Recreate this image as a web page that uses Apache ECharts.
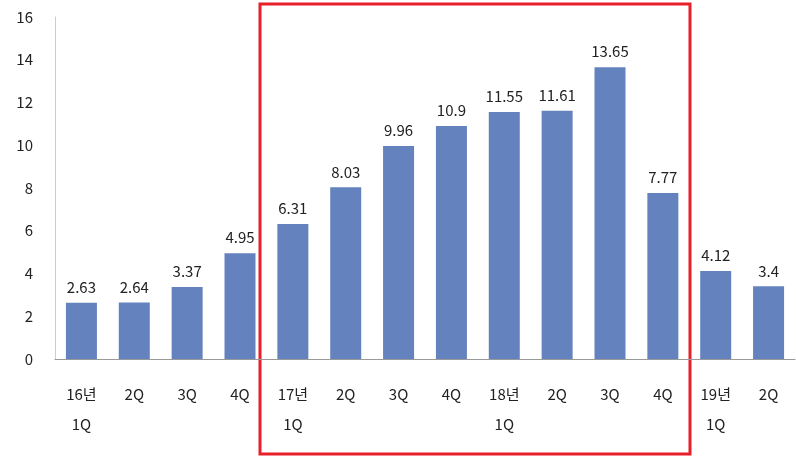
<!DOCTYPE html>
<html>
<head>
<meta charset="utf-8">
<script src="https://cdn.jsdelivr.net/npm/echarts@6/dist/echarts.min.js"></script>
<style>html,body{margin:0;padding:0;background:#fff}#chart{width:796px;height:458px}</style>
</head>
<body>
<div id="chart"></div>
<script>
// quarters, 16년 1Q ~ 19년 2Q
const categories = ['16년\n1Q','2Q','3Q','4Q','17년\n1Q','2Q','3Q','4Q','18년\n1Q','2Q','3Q','4Q','19년\n1Q','2Q'];
const values = [2.63, 2.64, 3.37, 4.95, 6.31, 8.03, 9.96, 10.9, 11.55, 11.61, 13.65, 7.77, 4.12, 3.4];
const yTicks = { min: 0, max: 16, interval: 2 };

const chart = echarts.init(document.getElementById('chart'));
const font = '"Malgun Gothic","Noto Sans CJK KR",sans-serif';
chart.setOption({
  animation: false,
  grid: { left: 55, right: 1, top: 17, bottom: 99 },
  xAxis: {
    type: 'category',
    data: categories,
    axisLine: { lineStyle: { color: '#999' } },
    axisTick: { show: false },
    axisLabel: { color: '#222', fontSize: 15, fontFamily: font, lineHeight: 30, margin: 20, verticalAlign: 'top' }
  },
  yAxis: {
    type: 'value',
    min: yTicks.min, max: yTicks.max, interval: yTicks.interval,
    axisLine: { show: true, lineStyle: { color: '#ccc' } },
    axisTick: { show: false },
    splitLine: { show: false },
    axisLabel: { color: '#222', fontSize: 15, fontFamily: font, margin: 22 }
  },
  series: [{
    type: 'bar',
    data: values,
    barWidth: 31,
    itemStyle: { color: '#6482bd' },
    label: { show: true, position: 'top', distance: 8, color: '#222', fontSize: 15, fontFamily: font }
  }],
  graphic: [{
    type: 'rect',
    shape: { x: 260, y: 4, width: 430, height: 450 },
    style: { fill: 'none', stroke: '#e8202a', lineWidth: 3 }
  }]
});
</script>
</body>
</html>
